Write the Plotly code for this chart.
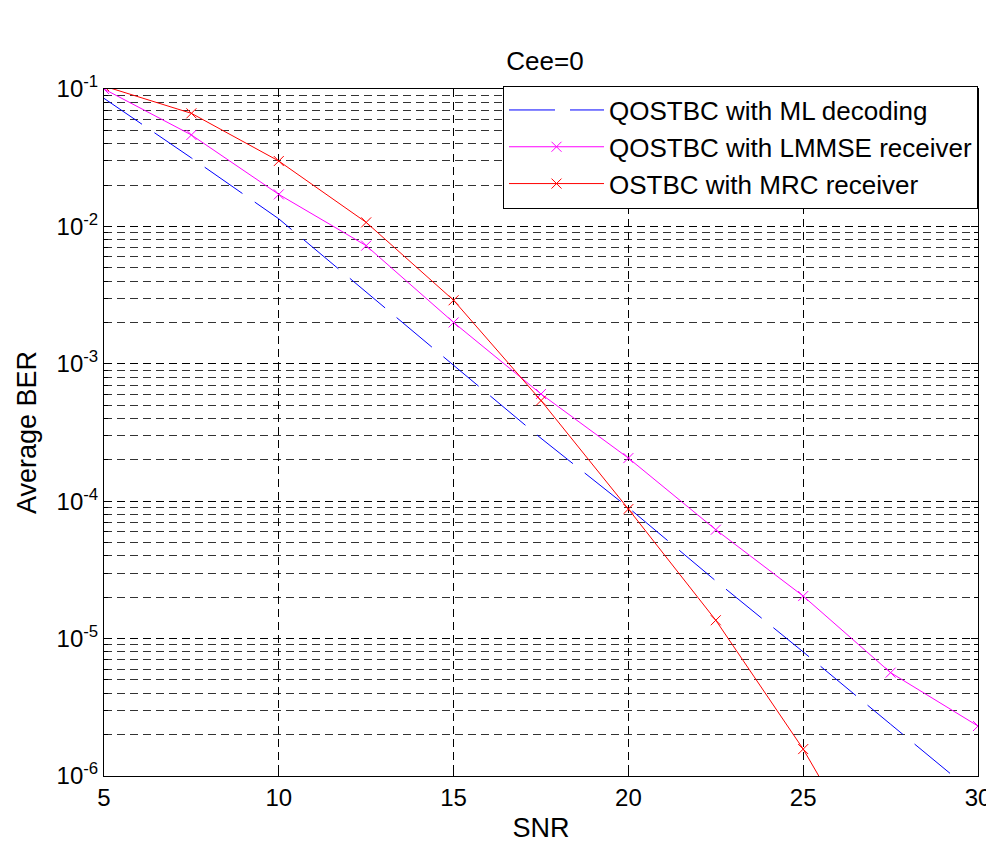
import plotly.graph_objects as go

snr = [5, 7.5, 10, 12.5, 15, 17.5, 20, 22.5, 25, 27.5, 30]
ber_ml = [0.0855, 0.0315, 0.01135, 0.0033, 9.75e-4, 2.87e-4, 8.97e-5, 2.63e-5, 8.0e-6, 2.38e-6, 7.1e-7]
ber_lmmse = [0.1, 0.0463, 0.0171, 0.00724, 0.0020, 6.03e-4, 2.06e-4, 6.2e-5, 2.04e-5, 5.65e-6, 2.31e-6]
ber_mrc = [0.105, 0.0665, 0.0299, 0.0107, 0.0029, 5.4e-4, 8.77e-5, 1.36e-5, 1.57e-6, 1.3e-7, 1.0e-8]

x_ticks = [5, 10, 15, 20, 25, 30]
y_major = [1e-6, 1e-5, 1e-4, 1e-3, 1e-2, 1e-1]
y_major_text = ["10<sup>-6</sup>", "10<sup>-5</sup>", "10<sup>-4</sup>",
                "10<sup>-3</sup>", "10<sup>-2</sup>", "10<sup>-1</sup>"]
y_minor = [m * d for d in [1e-6, 1e-5, 1e-4, 1e-3, 1e-2] for m in range(2, 10)]

FONT = "Liberation Sans, Arial, sans-serif"

fig = go.Figure()
fig.add_trace(go.Scatter(
    x=snr, y=ber_ml, mode="lines", name="QOSTBC with ML decoding",
    line=dict(color="#0000FF", width=1, dash="46px,15px"),
))
fig.add_trace(go.Scatter(
    x=snr, y=ber_lmmse, mode="lines+markers", name="QOSTBC with LMMSE receiver",
    line=dict(color="#FF00FF", width=1),
    marker=dict(symbol="x-thin", size=10, line=dict(color="#FF00FF", width=1)),
))
fig.add_trace(go.Scatter(
    x=snr, y=ber_mrc, mode="lines+markers", name="OSTBC with MRC receiver",
    line=dict(color="#FF0000", width=1),
    marker=dict(symbol="x-thin", size=10, line=dict(color="#FF0000", width=1)),
))

# page has an 8px body margin; figure is sized so the plot area lands at
# x 104..978, y 89..776 of the 994x843 window
fig.update_layout(
    width=986, height=835,
    margin=dict(l=96, r=16, t=81, b=67, autoexpand=False),
    paper_bgcolor="white", plot_bgcolor="white",
    font=dict(family=FONT, size=24, color="black"),
    title=dict(text="Cee=0", x=0.5446, xanchor="center", y=0.9365, yanchor="middle",
               font=dict(size=26)),
    showlegend=True,
    legend=dict(
        x=1.0, xanchor="right", y=1.005, yanchor="top",
        bgcolor="white", bordercolor="black", borderwidth=1,
        font=dict(size=26), itemwidth=95, tracegroupgap=0,
    ),
)

fig.update_xaxes(
    type="linear", range=[5, 30],
    tickmode="array", tickvals=x_ticks,
    ticks="inside", ticklen=7, tickcolor="black",
    showline=True, linecolor="black", linewidth=1, mirror="ticks",
    showgrid=True, gridcolor="black", gridwidth=1, griddash="8px,5px",
    zeroline=False,
    tickfont=dict(size=24),
    title=dict(text="SNR", font=dict(size=27), standoff=8),
    automargin=False,
)
fig.update_yaxes(
    type="log", range=[-6, -1],
    tickmode="array", tickvals=y_major, ticktext=y_major_text,
    ticks="inside", ticklen=7, tickcolor="black",
    showline=True, linecolor="black", linewidth=1, mirror="ticks",
    showgrid=True, gridcolor="black", gridwidth=1, griddash="8px,5px",
    zeroline=False,
    tickfont=dict(size=24),
    minor=dict(tickmode="array", tickvals=y_minor, ticks="inside", ticklen=4,
               tickcolor="black", showgrid=True, gridcolor="#333333",
               gridwidth=1, griddash="8px,5px"),
    title=dict(text="Average BER", font=dict(size=27), standoff=12),
    automargin=False,
)

fig.write_html("out.html")
